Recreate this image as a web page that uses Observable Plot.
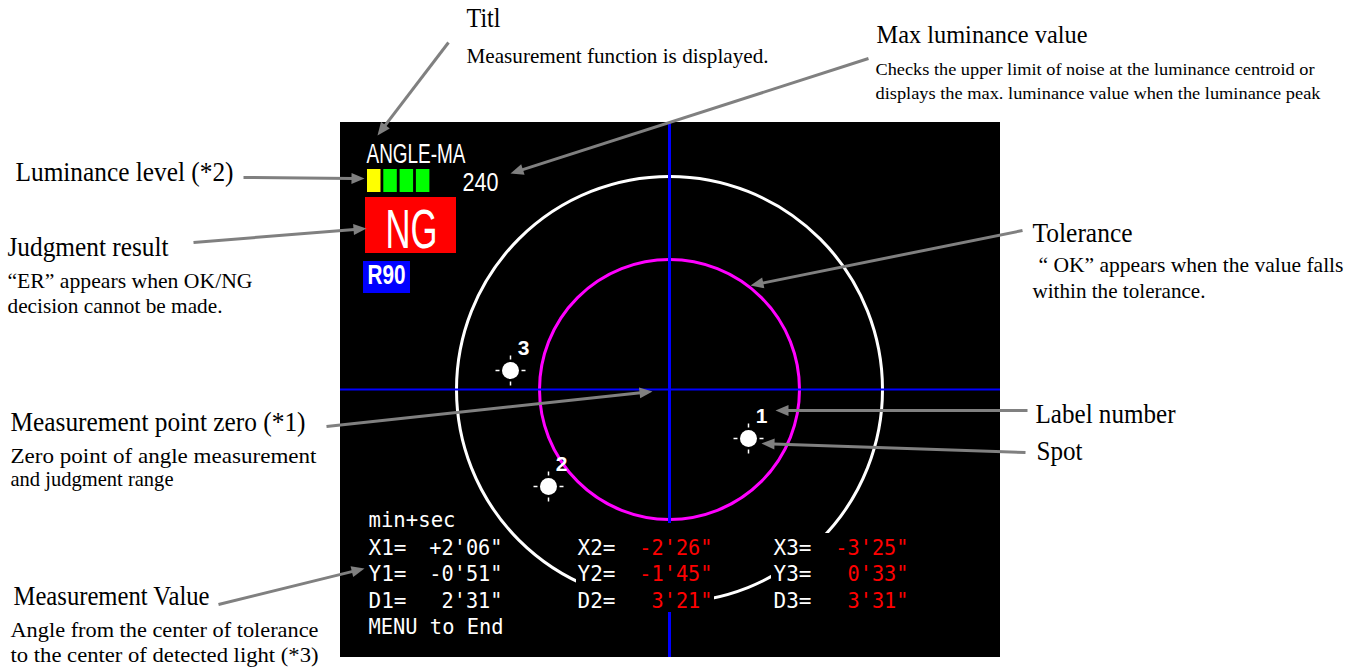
<!DOCTYPE html>
<html>
<head>
<meta charset="utf-8">
<script src="https://cdn.jsdelivr.net/npm/d3@7"></script>
<script src="https://cdn.jsdelivr.net/npm/@observablehq/plot@0.6"></script>
<style>
  html, body { margin: 0; padding: 0; background: #fff; overflow: hidden; }
  svg { display: block; }
</style>
</head>
<body>
<div id="chart"></div>
<script>
// ---------- content (data) ----------
const screenTitle = "ANGLE-MA";
const maxLuminance = "240";
const judgment = "NG";
const rangeLabel = "R90";
const luminanceBars = ["#ffff00", "#00ff00", "#00ff00", "#00ff00"];

const spotIds = [1, 2, 3];
const spotX = [748, 548, 510];
const spotY = [438, 486, 370];
const spotInTolerance = [true, false, false];

const readoutHeader = "min+sec";
const readoutFooter = "MENU to End";
const axisNames = ["X", "Y", "D"];
const spotValues = [
  ["+2'06\"", "-0'51\"", "2'31\""],
  ["-2'26\"", "-1'45\"", "3'21\""],
  ["-3'25\"", "0'33\"", "3'31\""]
];

const annotationTexts = [
  "Titl",
  "Measurement function is displayed.",
  "Max luminance value",
  "Checks the upper limit of noise at the luminance centroid or",
  "displays the max. luminance value when the luminance peak",
  "Tolerance",
  "\u201C OK\u201D appears when the value falls",
  "within the tolerance.",
  "Luminance level (*2)",
  "Judgment result",
  "\u201CER\u201D appears when OK/NG",
  "decision cannot be made.",
  "Measurement point zero (*1)",
  "Zero point of angle measurement",
  "and judgment range",
  "Measurement Value",
  "Angle from the center of tolerance",
  "to the center of detected light (*3)",
  "Label number",
  "Spot"
];

// ---------- layout ----------
const W = 1364, H = 670;
const screen = {x1: 340, x2: 1000, y1: 122, y2: 657};
const center = {x: 669, y: 389};
const outerR = 213, tolR = 130;

// annotation text layout: [x, baseline, fontSize, width]
const annotationLayout = [
  [466, 26, 27, 34],
  [466, 62, 21, 302],
  [876, 42, 26, 211],
  [875, 74, 17, 439],
  [875, 98, 17, 445],
  [1032, 241, 27, 100],
  [1038, 271, 22, 305],
  [1032, 297, 22, 173],
  [15, 180, 27, 218],
  [7, 255, 27, 161],
  [7, 287, 22, 245],
  [7, 312, 22, 215],
  [10, 430, 27, 295],
  [10, 462, 22, 306],
  [10, 485, 22, 163],
  [13, 604, 27, 196],
  [10, 636, 22, 308],
  [10, 661, 22, 308],
  [1035, 422, 27, 140],
  [1036, 459, 27, 46]
];

// leader arrows: from -> tip
const leaders = [
  [[448, 42], [377, 135]],
  [[243, 177], [364, 178]],
  [[193, 242], [366, 228]],
  [[868, 58], [510, 173]],
  [[1022, 230], [750, 285]],
  [[326, 426], [652, 391]],
  [[218, 604], [364, 568]],
  [[1027, 410], [775, 410]],
  [[1025, 452], [761, 443]]
];

const colLabelX = [368, 577, 773];
const colValueEnd = [502, 712, 908];
const rowY = [554, 580, 607];
const headerY = 526, footerY = 633;
const charW = 12.2;
const monoSize = 22;

const masks = [
  {x1: 576, x2: 714, y1: 523, y2: 612},
  {x1: 771, x2: 911, y1: 533, y2: 612}
];

// ---------- derived ----------
const fit = new Map();

const spots = spotIds.map((id, i) => ({id, x: spotX[i], y: spotY[i]}));
const spotTicks = spots.flatMap(s => [[0, -1], [0, 1], [-1, 0], [1, 0]].map(([ux, uy]) => ({
  x1: s.x + ux * 11, y1: s.y + uy * 11, x2: s.x + ux * 15, y2: s.y + uy * 15
})));

const annotations = annotationTexts.map((text, i) => {
  const [x, y, size, w] = annotationLayout[i];
  fit.set(text, w);
  return {text, x, y, size};
});

const HEAD_L = 13, HEAD_W = 5.5;
const leaderLines = [], leaderHeads = [];
leaders.forEach(([[sx, sy], [tx, ty]], i) => {
  const dx = tx - sx, dy = ty - sy, len = Math.hypot(dx, dy);
  const ux = dx / len, uy = dy / len, nx = -uy, ny = ux;
  const bx = tx - ux * HEAD_L, by = ty - uy * HEAD_L;
  leaderLines.push({x1: sx, y1: sy, x2: bx + ux, y2: by + uy});
  leaderHeads.push({id: i, x: tx, y: ty});
  leaderHeads.push({id: i, x: bx + nx * HEAD_W, y: by + ny * HEAD_W});
  leaderHeads.push({id: i, x: bx - nx * HEAD_W, y: by - ny * HEAD_W});
});

const readLabels = [], readValues = [];
for (let c = 0; c < 3; c++) {
  for (let r = 0; r < 3; r++) {
    const label = `${axisNames[r]}${c + 1}=`;
    readLabels.push({text: label, x: colLabelX[c], y: rowY[r]});
    fit.set(label, 38);
    const v = spotValues[c][r];
    readValues.push({text: v, x: colValueEnd[c], y: rowY[r], color: spotInTolerance[c] ? "#ffffff" : "#ff0000"});
    fit.set(v, v.length * charW);
  }
}
fit.set(readoutHeader, 87);
fit.set(readoutFooter, 135);
fit.set(screenTitle, 99);
fit.set(maxLuminance, 36);
fit.set(judgment, 52);
fit.set(rangeLabel, 38);

const bars = luminanceBars.map((color, i) => ({x1: 367 + i * 16.3, x2: 367 + i * 16.3 + 13.5, y1: 169, y2: 192, color}));

const serif = "'Liberation Serif', 'Times New Roman', serif";
const sans = "'Liberation Sans Narrow', 'Liberation Sans', Arial, sans-serif";
const mono = "'DejaVu Sans Mono', 'Liberation Mono', monospace";

const marks = [
  // screen
  Plot.rect([screen], {x1: "x1", x2: "x2", y1: "y1", y2: "y2", fill: "black"}),
  Plot.dot([center], {x: "x", y: "y", r: outerR, stroke: "white", strokeWidth: 3, fill: "none"}),
  Plot.dot([center], {x: "x", y: "y", r: tolR, stroke: "#ff00ff", strokeWidth: 3, fill: "none"}),
  Plot.ruleX([center.x], {y1: screen.y1, y2: screen.y2, stroke: "#0000ff", strokeWidth: 3}),
  Plot.ruleY([center.y], {x1: screen.x1, x2: screen.x2, stroke: "#0000ff", strokeWidth: 2}),
  Plot.rect(masks, {x1: "x1", x2: "x2", y1: "y1", y2: "y2", fill: "black"}),
  // spots
  Plot.link(spotTicks, {x1: "x1", y1: "y1", x2: "x2", y2: "y2", stroke: "white", strokeWidth: 1.5}),
  Plot.dot(spots, {x: "x", y: "y", r: 8.5, fill: "white"}),
  Plot.text(spots, {x: "x", y: "y", text: d => String(d.id), dx: 13, dy: -16, fill: "white", fontSize: 21, fontWeight: "bold", fontFamily: sans, lineAnchor: "bottom"}),
  // header items
  Plot.text([screenTitle], {x: 366, y: 162, text: d => d, fill: "white", fontSize: 27, fontWeight: 500, fontFamily: sans, textAnchor: "start", lineAnchor: "bottom"}),
  Plot.rect(bars, {x1: "x1", x2: "x2", y1: "y1", y2: "y2", fill: "color"}),
  Plot.text([maxLuminance], {x: 462, y: 190, text: d => d, fill: "white", fontSize: 25, fontWeight: 500, fontFamily: sans, textAnchor: "start", lineAnchor: "bottom"}),
  Plot.rect([{x1: 365, x2: 456, y1: 197, y2: 253}], {x1: "x1", x2: "x2", y1: "y1", y2: "y2", fill: "#ff0000"}),
  Plot.text([judgment], {x: 411, y: 247, text: d => d, fill: "white", fontSize: 56, fontFamily: sans, textAnchor: "middle", lineAnchor: "bottom"}),
  Plot.rect([{x1: 363, x2: 410, y1: 261, y2: 293}], {x1: "x1", x2: "x2", y1: "y1", y2: "y2", fill: "#0000ff"}),
  Plot.text([rangeLabel], {x: 367, y: 283, text: d => d, fill: "white", fontSize: 28, fontWeight: "bold", fontFamily: sans, textAnchor: "start", lineAnchor: "bottom"}),
  // readouts
  Plot.text([readoutHeader], {x: colLabelX[0], y: headerY, text: d => d, fill: "white", fontSize: monoSize, fontFamily: mono, textAnchor: "start", lineAnchor: "bottom"}),
  Plot.text([readoutFooter], {x: colLabelX[0], y: footerY, text: d => d, fill: "white", fontSize: monoSize, fontFamily: mono, textAnchor: "start", lineAnchor: "bottom"}),
  Plot.text(readLabels, {x: "x", y: "y", text: "text", fill: "white", fontSize: monoSize, fontFamily: mono, textAnchor: "start", lineAnchor: "bottom"}),
  Plot.text(readValues, {x: "x", y: "y", text: "text", fill: "color", fontSize: monoSize, fontFamily: mono, textAnchor: "end", lineAnchor: "bottom"}),
  // annotations
  Plot.link(leaderLines, {x1: "x1", y1: "y1", x2: "x2", y2: "y2", stroke: "#808080", strokeWidth: 3}),
  Plot.line(leaderHeads, {x: "x", y: "y", z: "id", fill: "#808080", stroke: "none"}),
  ...annotations.map(a => Plot.text([a], {x: "x", y: "y", text: "text", fill: "#000", fontSize: a.size, fontFamily: serif, textAnchor: "start", lineAnchor: "bottom"}))
];

const chart = Plot.plot({
  width: W, height: H, margin: 0,
  x: {domain: [0, W], range: [0, W], axis: null},
  y: {domain: [0, H], range: [0, H], axis: null},
  color: {type: "identity"},
  style: {background: "white", overflow: "visible"},
  marks
});

d3.select(chart).selectAll("text").each(function () {
  const t = this.textContent;
  if (fit.has(t)) {
    this.setAttribute("textLength", fit.get(t));
    this.setAttribute("lengthAdjust", "spacingAndGlyphs");
  }
});

document.getElementById("chart").appendChild(chart);
</script>
</body>
</html>
